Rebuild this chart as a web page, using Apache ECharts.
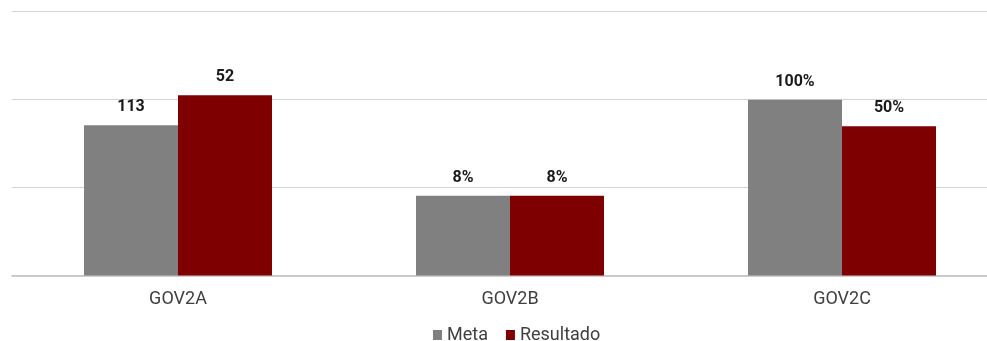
<!DOCTYPE html>
<html>
<head>
<meta charset="utf-8">
<script src="https://cdn.jsdelivr.net/npm/echarts@6/dist/echarts.min.js"></script>
<style>html,body{margin:0;padding:0;background:#fff;}#c{width:987px;height:341px;}</style>
</head>
<body>
<div id="c"></div>
<script>
var categories = ['GOV2A', 'GOV2B', 'GOV2C'];
var seriesNames = ['Meta', 'Resultado'];
// bar heights as drawn (percent of axis scale)
var metaHeights = [85.4, 45.4, 100];
var resultadoHeights = [102.5, 45.4, 84.8];
// data label texts as printed
var metaLabels = ['113', '8%', '100%'];
var resultadoLabels = ['52', '8%', '50%'];
var yTicks = [0, 50, 100, 150];

var chart = echarts.init(document.getElementById('c'), null, {renderer: 'canvas'});
function labelOf(arr) {
  return {
    show: true, position: 'top', distance: 10,
    fontFamily: 'Roboto', fontWeight: 'bold', fontSize: 16, color: '#1a1a1a',
    formatter: function (p) { return arr[p.dataIndex]; }
  };
}
chart.setOption({
  animation: false,
  backgroundColor: '#ffffff',
  grid: {left: 12, width: 996, top: 11.7, bottom: 65.5, containLabel: false, outerBoundsMode: 'none'},
  legend: {
    data: seriesNames, left: 428, top: 321, itemWidth: 9, itemHeight: 10, itemGap: 18,
    icon: 'rect',
    textStyle: {fontFamily: 'Roboto', fontSize: 18, color: '#404040'}
  },
  xAxis: {
    type: 'category', data: categories,
    axisLine: {lineStyle: {color: '#c0c0c0', width: 1.5}},
    axisTick: {show: false},
    axisLabel: {fontFamily: 'Roboto', fontSize: 18, color: '#404040', margin: 15}
  },
  yAxis: {
    type: 'value', min: yTicks[0], max: yTicks[yTicks.length - 1], interval: 50,
    axisLabel: {show: false}, axisLine: {show: false}, axisTick: {show: false},
    splitLine: {lineStyle: {color: '#d4d4d4', width: 1}}
  },
  series: [
    {name: seriesNames[0], type: 'bar', data: metaHeights, barWidth: 94, barGap: '0%',
     itemStyle: {color: '#808080'}, label: labelOf(metaLabels)},
    {name: seriesNames[1], type: 'bar', data: resultadoHeights, barWidth: 94, barGap: '0%',
     itemStyle: {color: '#7f0000'}, label: labelOf(resultadoLabels)}
  ]
});
</script>
</body>
</html>
